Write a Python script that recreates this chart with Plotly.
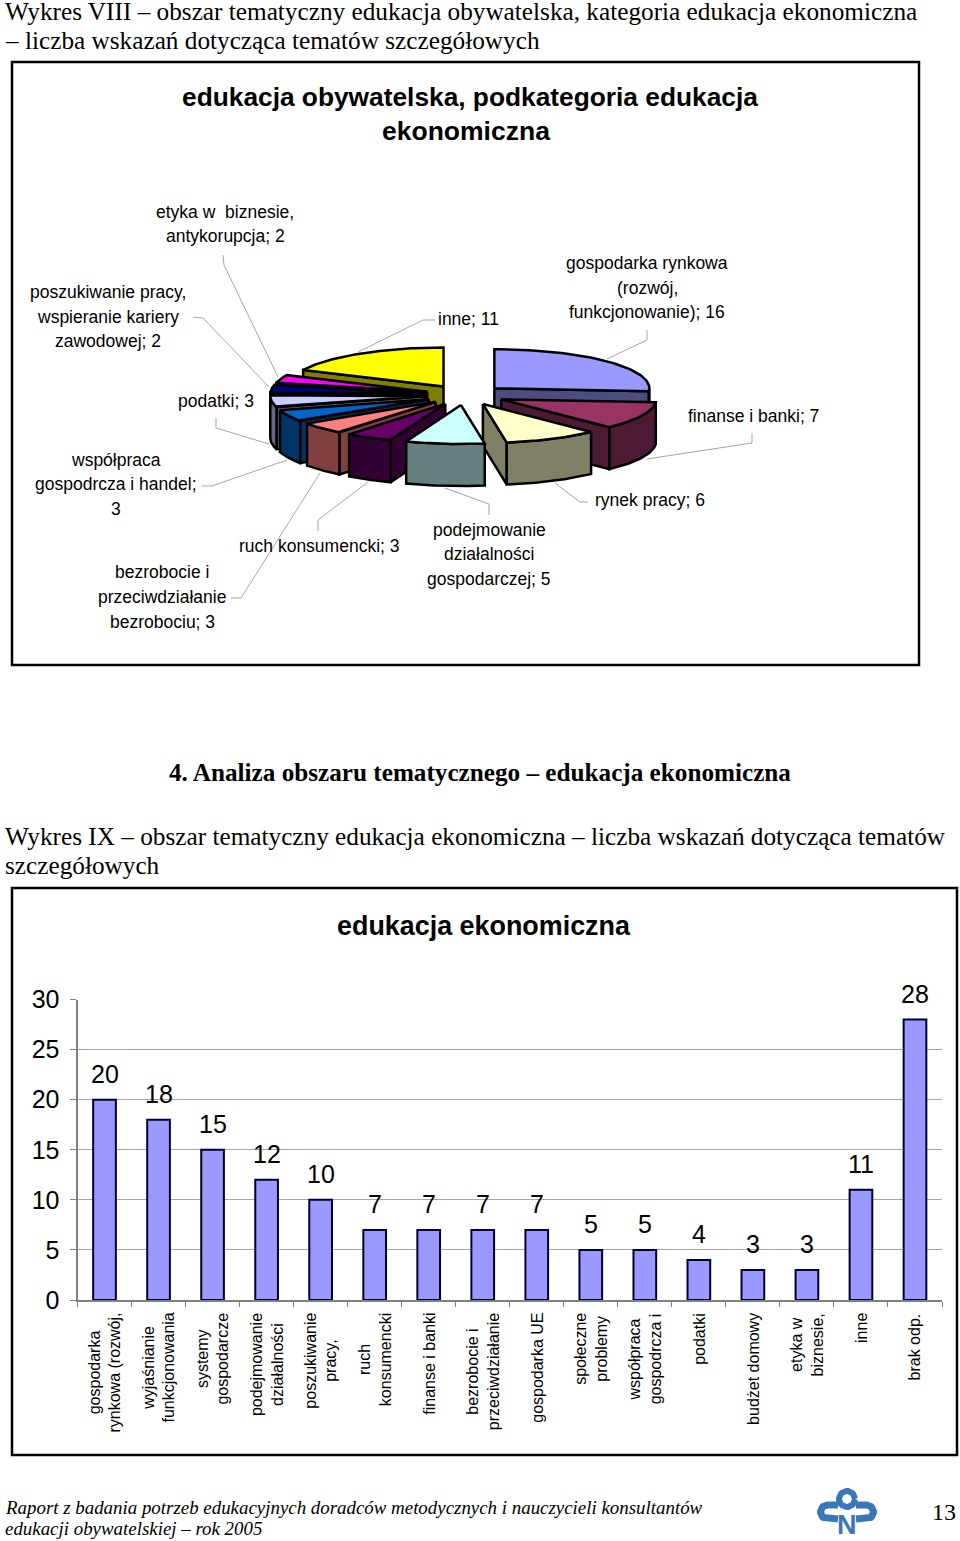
import numpy as np
import plotly.graph_objects as go

# ---------- data ----------
pie_names = ["gospodarka rynkowa", "finanse i banki", "rynek pracy", "podejmowanie działalności",
             "ruch konsumencki", "bezrobocie", "współpraca", "podatki", "poszukiwanie pracy", "etyka", "inne"]
pie_values = [16, 7, 6, 5, 3, 3, 3, 3, 2, 2, 11]
pie_top = ["#9999FF", "#993366", "#FFFFCC", "#CCFFFF", "#660066", "#FF8080", "#0066CC", "#CCCCFF", "#000080", "#FF00FF", "#FFFF00"]
pie_side = ["#4C4C80", "#4D1A33", "#808066", "#668080", "#330033", "#804040", "#003366", "#666680", "#000040", "#800080", "#808000"]

bar_categories = ["gospodarka<br>rynkowa (rozwój,", "wyjaśnianie<br>funkcjonowania", "systemy<br>gospodarcze",
                  "podejmowanie<br>działalności", "poszukiwanie<br>pracy,", "ruch<br>konsumencki",
                  "finanse i banki", "bezrobocie i<br>przeciwdziałanie", "gospodarka UE", "społeczne<br>problemy",
                  "współpraca<br>gospodrcza i", "podatki", "budżet domowy", "etyka w<br>biznesie,", "inne", "brak odp."]
bar_values = [20, 18, 15, 12, 10, 7, 7, 7, 7, 5, 5, 4, 3, 3, 11, 28]
y_ticks = [0, 5, 10, 15, 20, 25, 30]

page_texts = [
    ("Wykres VIII – obszar tematyczny edukacja obywatelska, kategoria edukacja ekonomiczna", 4, 11),
    ("– liczba wskazań dotycząca tematów szczegółowych", 4, 39.5),
    ("Wykres IX – obszar tematyczny edukacja ekonomiczna – liczba wskazań dotycząca tematów", 4, 836),
    ("szczegółowych", 4, 865),
]
pie_label_lines = [
    ("etyka w  biznesie,", 225, 212), ("antykorupcja; 2", 225, 236),
    ("poszukiwanie pracy,", 108, 292), ("wspieranie kariery", 108, 317), ("zawodowej; 2", 108, 341),
    ("inne; 11", 468, 319),
    ("gospodarka rynkowa", 647, 263), ("(rozwój,", 647, 288), ("funkcjonowanie); 16", 647, 312),
    ("podatki; 3", 216, 401), ("finanse i banki; 7", 753, 416), ("rynek pracy; 6", 650, 500),
    ("podejmowanie", 489, 530), ("działalności", 489, 554), ("gospodarczej; 5", 489, 579),
    ("ruch konsumencki; 3", 319, 546),
    ("bezrobocie i", 162, 572), ("przeciwdziałanie", 162, 597), ("bezrobociu; 3", 162, 622),
    ("współpraca", 116, 460), ("gospodrcza i handel;", 116, 484), ("3", 116, 509),
]
leaders = [
    [(223, 255), (224, 265), (278, 377)], [(193, 317), (203, 318), (269, 387)],
    [(435, 320), (423, 320), (358, 352)], [(647, 330), (647, 340), (607, 359)],
    [(216, 418), (216, 428), (269, 444)], [(202, 486), (212, 486), (287, 460)],
    [(231, 598), (241, 598), (320, 473)], [(318, 531), (318, 520), (368, 482)],
    [(489, 515), (489, 504), (445, 488)], [(588, 502), (580, 502), (555, 483)],
    [(752, 433), (752, 443), (647, 459)],
]

# ---------- page ----------
W, H = 960, 1541
fig = go.Figure()
annotations, shapes = [], []
GREY = "#A6A6A6"
SERIF, SANS = "Liberation Serif", "Liberation Sans"


def text(s, x, y, size, family=SANS, anchor="center", color="#000000", bold=False, italic=False):
    if bold:
        s = f"<b>{s}</b>"
    if italic:
        s = f"<i>{s}</i>"
    annotations.append(dict(text=s, x=x, y=y, xref="x", yref="y", xanchor=anchor, yanchor="middle",
                            showarrow=False, borderpad=0, font=dict(family=family, size=size, color=color)))


for s, x, y in page_texts:
    text(s, x, y, 25.25, SERIF, "left")
text("4. Analiza obszaru tematycznego – edukacja ekonomiczna", 480, 772, 25.2, SERIF, bold=True)
text("Raport z badania potrzeb edukacyjnych doradców metodycznych i nauczycieli konsultantów", 4, 1507, 18.9, SERIF, "left", italic=True)
text("edukacji obywatelskiej – rok 2005", 4, 1528, 18.9, SERIF, "left", italic=True)
text("13", 944, 1512, 24, SERIF)
text("edukacja obywatelska, podkategoria edukacja", 470, 97, 26.3, SANS, bold=True)
text("ekonomiczna", 466, 131, 26.5, SANS, bold=True)
text("edukacja ekonomiczna", 484, 926, 26.9, SANS, bold=True)
for s, x, y in pie_label_lines:
    text(s, x, y, 17.5)

for box in [(12, 62, 919, 665), (12, 888, 957, 1455)]:
    shapes.append(dict(type="rect", xref="x", yref="y", x0=box[0], y0=box[1], x1=box[2], y1=box[3],
                       line=dict(color="#000000", width=2.5), layer="below"))

for pts in leaders:
    fig.add_trace(go.Scatter(x=[p[0] for p in pts], y=[p[1] for p in pts], mode="lines",
                             line=dict(color=GREY, width=1), xaxis="x", yaxis="y",
                             showlegend=False, hoverinfo="skip"))

# ---------- exploded oblique pie, built from the values ----------
CX, CY, RX, RY, DEPTH, EXPLODE = 465.0, 395.0, 155.0, 39.0, 42.0, 40.0
edges = np.cumsum([0] + pie_values) / sum(pie_values) * 2 * np.pi


def face(xs, ys, color):
    fig.add_trace(go.Scatter(x=xs, y=ys, mode="lines", fill="toself", fillcolor=color,
                             line=dict(color="#000000", width=2.5), xaxis="x", yaxis="y",
                             showlegend=False, hoverinfo="skip"))


order = sorted(range(len(pie_values)), key=lambda i: -np.cos((edges[i] + edges[i + 1]) / 2))
for i in order:
    a0, a1 = edges[i], edges[i + 1]
    mid = (a0 + a1) / 2
    ax = CX + EXPLODE * np.sin(mid)
    ay = CY - EXPLODE * RY / RX * np.cos(mid)
    px = lambda t: ax + RX * np.sin(t)
    py = lambda t: ay - RY * np.cos(t)
    # radial faces turned towards the viewer
    if np.sin(a0) < -1e-9:
        face([ax, px(a0), px(a0), ax, ax], [ay, py(a0), py(a0) + DEPTH, ay + DEPTH, ay], pie_side[i])
    if np.sin(a1) > 1e-9:
        face([ax, px(a1), px(a1), ax, ax], [ay, py(a1), py(a1) + DEPTH, ay + DEPTH, ay], pie_side[i])
    # curved rim
    lo, hi = max(a0, np.pi / 2), min(a1, 3 * np.pi / 2)
    if hi > lo:
        t = np.linspace(lo, hi, 40)
        face(np.r_[px(t), px(t)[::-1], px(t)[0]], np.r_[py(t), py(t)[::-1] + DEPTH, py(t)[0]], pie_side[i])
    # top
    t = np.linspace(a0, a1, 60)
    face(np.r_[ax, px(t), ax], np.r_[ay, py(t), ay], pie_top[i])

# ---------- bar chart ----------
fig.add_trace(go.Bar(x=bar_categories, y=bar_values, xaxis="x2", yaxis="y2", width=0.42,
                     marker=dict(color="#9999FF", line=dict(color="#000030", width=2)),
                     showlegend=False, hoverinfo="skip"))
for i, (cat, v) in enumerate(zip(bar_categories, bar_values)):
    annotations.append(dict(text=str(v), x=i, y=v, xref="x2", yref="y2", yshift=25.5, yanchor="middle",
                            showarrow=False, font=dict(family=SANS, size=25, color="#000000")))
    annotations.append(dict(text=cat, x=i, y=1312, xref="x2", yref="y", yanchor="top", xanchor="center",
                            textangle=-90, showarrow=False, align="center", borderpad=0,
                            font=dict(family=SANS, size=16, color="#000000")))

# ---------- logo ----------
BLUE = "#3A76B8"


def stroke(xs, ys, width):
    fig.add_trace(go.Scatter(x=xs, y=ys, mode="lines", line=dict(color=BLUE, width=width), xaxis="x", yaxis="y",
                             showlegend=False, hoverinfo="skip"))


t = np.linspace(0, 2 * np.pi, 40)
stroke(847 + 8 * np.cos(t), 1499 + 8 * np.sin(t), 6)
t = np.linspace(np.pi / 2, 3 * np.pi / 2, 24)
stroke(np.r_[838, 827.5 + 7 * np.cos(t), 838], np.r_[1519, 1512 + 7 * np.sin(t), 1505], 7)
stroke(np.r_[856, 866.5 - 7 * np.cos(t), 856], np.r_[1519, 1512 + 7 * np.sin(t), 1505], 7)
text("N", 846.5, 1525, 27, SANS, color=BLUE, bold=True)

fig.update_layout(
    width=W, height=H, margin=dict(l=0, r=0, t=0, b=0, pad=0, autoexpand=False),
    paper_bgcolor="#FFFFFF", plot_bgcolor="rgba(0,0,0,0)", showlegend=False,
    annotations=annotations, shapes=shapes, bargap=0.58,
    xaxis=dict(domain=[0, 1], range=[0, W], visible=False, fixedrange=True),
    yaxis=dict(domain=[0, 1], range=[H, 0], visible=False, fixedrange=True),
    xaxis2=dict(domain=[77.5 / W, 942 / W], anchor="y2", type="category", tickson="boundaries",
                categoryorder="array", categoryarray=bar_categories,
                showticklabels=False, ticks="outside", ticklen=5, tickcolor="#808080", tickwidth=1,
                showline=True, linecolor="#808080", linewidth=2, showgrid=False, fixedrange=True),
    yaxis2=dict(domain=[(H - 1300) / H, (H - 999.5) / H], anchor="x2", range=[0, 30], tickvals=y_ticks,
                ticks="outside", ticklen=6, tickcolor="#808080", tickwidth=1,
                showline=True, linecolor="#808080", linewidth=2, showgrid=True, gridcolor="#A6A6A6", gridwidth=1,
                zeroline=False, ticklabelstandoff=5, fixedrange=True,
                tickfont=dict(family=SANS, size=25, color="#000000")),
)

fig.write_html("out.html", config={"displayModeBar": False},
               post_script="document.body.style.margin='0';document.documentElement.style.overflow='hidden';")
